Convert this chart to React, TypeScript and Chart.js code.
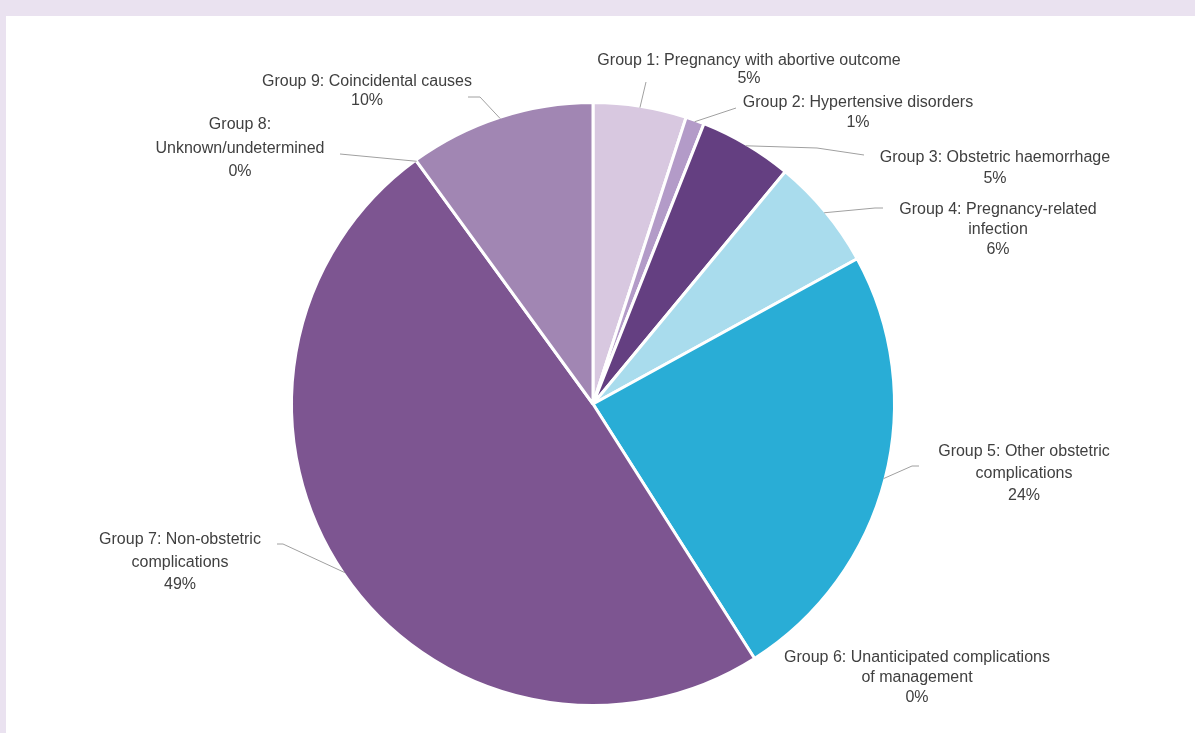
import React, { useEffect, useRef } from "react";
import { Chart, registerables } from "chart.js";

Chart.register(...registerables);

// ---- Data ----
const categories = [
  "Group 1: Pregnancy with abortive outcome",
  "Group 2: Hypertensive disorders",
  "Group 3: Obstetric haemorrhage",
  "Group 4: Pregnancy-related infection",
  "Group 5: Other obstetric complications",
  "Group 6: Unanticipated complications of management",
  "Group 7: Non-obstetric complications",
  "Group 8: Unknown/undetermined",
  "Group 9: Coincidental causes",
];
const values = [5, 1, 5, 6, 24, 0, 49, 0, 10];
const valueLabels = ["5%", "1%", "5%", "6%", "24%", "0%", "49%", "0%", "10%"];
const colors = [
  "#D8C8E0",
  "#B39BC8",
  "#643F81",
  "#A9DCED",
  "#29ADD6",
  "#3E8FB0",
  "#7D5591",
  "#5A4A6A",
  "#A186B3",
];

// ---- Label layout (relative to pie centre) ----
type Pt = [number, number];
const labelLayout: { dx: number; dy: number; lh: number; wrap: number; leader: Pt[] | null }[] = [
  { dx: 156, dy: -343, lh: 18, wrap: 400, leader: [[53, -322]] },
  { dx: 265, dy: -301, lh: 20, wrap: 400, leader: [[143, -296]] },
  { dx: 402, dy: -246, lh: 21, wrap: 400, leader: [[224, -256], [271, -249]] },
  { dx: 405, dy: -194, lh: 20, wrap: 220, leader: [[282, -196], [290, -196]] },
  { dx: 431, dy: 48, lh: 22, wrap: 200, leader: [[319, 62], [326, 62]] },
  { dx: 324, dy: 254, lh: 20, wrap: 272, leader: null },
  { dx: -413, dy: 136, lh: 22.5, wrap: 180, leader: [[-310, 140], [-316, 140]] },
  { dx: -353, dy: -279, lh: 23.5, wrap: 180, leader: [[-253, -250]] },
  { dx: -226, dy: -322, lh: 19, wrap: 400, leader: [[-113, -307], [-125, -307]] },
];

const FONT = '16px "Liberation Sans", Arial, sans-serif';

function wrapText(ctx: CanvasRenderingContext2D, text: string, maxW: number): string[] {
  const words = text.split(" ");
  const lines: string[] = [];
  let cur = "";
  for (const w of words) {
    const test = cur ? cur + " " + w : w;
    if (ctx.measureText(test).width > maxW && cur) {
      lines.push(cur);
      cur = w;
    } else {
      cur = test;
    }
  }
  if (cur) lines.push(cur);
  return lines;
}

const labelPlugin = {
  id: "leaderLabels",
  afterDatasetsDraw(chart: any) {
    const ctx: CanvasRenderingContext2D = chart.ctx;
    const meta = chart.getDatasetMeta(0);
    ctx.save();
    ctx.font = FONT;
    ctx.textAlign = "center";
    ctx.textBaseline = "middle";
    meta.data.forEach((arc: any, i: number) => {
      const L = labelLayout[i];
      const cx = arc.x;
      const cy = arc.y;
      const mid = (arc.startAngle + arc.endAngle) / 2;
      const r = arc.outerRadius - 1.5;
      if (L.leader) {
        ctx.strokeStyle = "#A0A0A0";
        ctx.lineWidth = 1;
        ctx.beginPath();
        ctx.moveTo(cx + Math.cos(mid) * r, cy + Math.sin(mid) * r);
        L.leader.forEach((p) => ctx.lineTo(cx + p[0], cy + p[1]));
        ctx.stroke();
      }
      ctx.fillStyle = "#404040";
      const lines = wrapText(ctx, chart.data.labels[i], L.wrap);
      lines.push(valueLabels[i]);
      lines.forEach((t, k) => {
        ctx.fillText(t, cx + L.dx, cy + L.dy + k * L.lh);
      });
    });
    ctx.restore();
  },
};

export default function App() {
  const ref = useRef<HTMLCanvasElement | null>(null);
  useEffect(() => {
    document.body.style.margin = "0";
    if (!ref.current) return;
    const chart = new Chart(ref.current, {
      type: "pie",
      data: {
        labels: categories,
        datasets: [
          {
            data: values,
            backgroundColor: colors,
            borderColor: "#FFFFFF",
            borderWidth: 3,
          },
        ],
      },
      options: {
        responsive: false,
        animation: false,
        layout: { padding: { left: 284, right: 299, top: 85, bottom: 26 } },
        plugins: {
          legend: { display: false },
          tooltip: { enabled: false },
          title: { display: false },
        },
      },
      plugins: [labelPlugin],
    });
    return () => chart.destroy();
  }, []);
  return (
    <div
      style={{
        position: "relative",
        width: 1195,
        height: 733,
        background: "#EAE2F0",
        overflow: "hidden",
      }}
    >
      <canvas
        ref={ref}
        width={1189}
        height={717}
        style={{ position: "absolute", left: 6, top: 16, width: 1189, height: 717, background: "#FFFFFF" }}
      />
    </div>
  );
}
